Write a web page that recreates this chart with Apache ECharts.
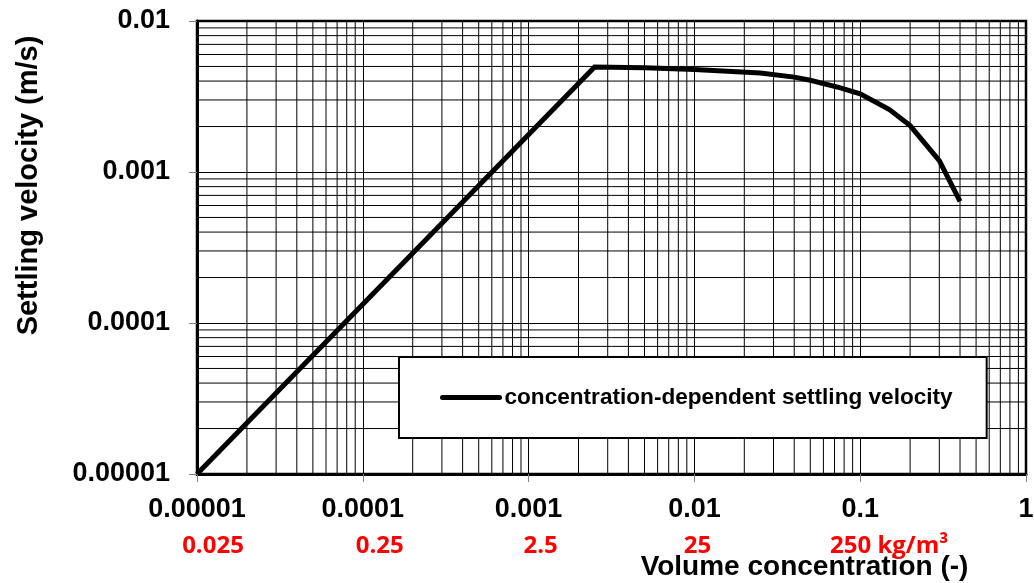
<!DOCTYPE html>
<html>
<head>
<meta charset="utf-8">
<script src="https://cdn.jsdelivr.net/npm/echarts@6/dist/echarts.min.js"></script>
<style>
html,body{margin:0;padding:0;background:#fff;}
#chart{width:1034px;height:583px;}
</style>
</head>
<body>
<div id="chart"></div>
<script>
// ---- data ----
const concentration = [0.00001, 0.0025, 0.005, 0.01, 0.025, 0.04, 0.05, 0.075, 0.1, 0.15, 0.2, 0.3, 0.4];
const velocity      = [0.00001, 0.00495, 0.0049, 0.00478, 0.00452, 0.00425, 0.00405, 0.00362, 0.00329, 0.00259, 0.00203, 0.00119, 0.00064];
const seriesName = 'concentration-dependent settling velocity';
const xTickLabels = ['0.00001', '0.0001', '0.001', '0.01', '0.1', '1'];
const yTickLabels = ['0.00001', '0.0001', '0.001', '0.01'];
const massTickLabels = ['0.025', '0.25', '2.5', '25', '250 kg/m³', ''];
const xDecades = [-5, -4, -3, -2, -1, 0];
const yDecades = [-5, -4, -3, -2];
const xMin = 0.00001, xMax = 1, yMin = 0.00001, yMax = 0.01;

// minor log gridline values (2..9 within each decade)
const minorX = [], minorY = [];
for (let i = 0; i < xDecades.length - 1; i++) for (let k = 2; k <= 9; k++) minorX.push(k * Math.pow(10, xDecades[i]));
for (let i = 0; i < yDecades.length - 1; i++) for (let k = 2; k <= 9; k++) minorY.push(k * Math.pow(10, yDecades[i]));

const decadeIndex = (v, decs) => decs.indexOf(Math.round(Math.log10(v)));

const chart = echarts.init(document.getElementById('chart'), null, {renderer: 'canvas'});
const baseFont = 'Liberation Sans, Arial, sans-serif';
const redFont = 'Open Sans, sans-serif';
const redStyle = (shift) => ({color: '#ff0000', fontFamily: redFont, fontWeight: 'bold', fontSize: 24, padding: [0, 0, 0, 2 * shift]});

const gridLineItem = (p1, p2) => ({
  type: 'line', silent: true,
  shape: {x1: p1[0], y1: p1[1], x2: p2[0], y2: p2[1]},
  style: {stroke: '#000', lineWidth: 1}
});

const option = {
  animation: false,
  backgroundColor: '#fff',
  grid: {left: 197, top: 21, right: 8, bottom: 109, show: true, borderColor: '#000', borderWidth: 2.5,
         backgroundColor: 'transparent', containLabel: false, outerBoundsMode: 'none'},
  legend: {
    data: [seriesName],
    left: 399, top: 357,
    padding: [29, 34, 29, 41],
    itemWidth: 57, itemHeight: 14, itemGap: 6,
    borderColor: '#000', borderWidth: 2, backgroundColor: '#fff',
    z: 20,
    itemStyle: {opacity: 0},
    lineStyle: {width: 5, cap: 'round', color: '#000'},
    textStyle: {color: '#000', fontFamily: baseFont, fontWeight: 'bold', fontSize: 22.6},
    selectedMode: false
  },
  xAxis: [{
    type: 'log', logBase: 10, min: xMin, max: xMax,
    position: 'bottom',
    axisLine: {show: true, onZero: false, lineStyle: {color: '#000', width: 3}},
    axisTick: {show: true, length: 8, lineStyle: {color: '#808080', width: 1}},
    axisLabel: {margin: 22, color: '#000', fontFamily: baseFont, fontWeight: 'bold', fontSize: 27,
      formatter: (v) => xTickLabels[decadeIndex(v, xDecades)] || ''},
    splitLine: {show: true, lineStyle: {color: '#000', width: 1}},
    minorTick: {show: false}, minorSplitLine: {show: false}
  }, {
    type: 'log', logBase: 10, min: xMin, max: xMax,
    position: 'bottom', offset: 0,
    axisLine: {show: false}, axisTick: {show: false}, splitLine: {show: false},
    axisLabel: {margin: 60,
      formatter: (v) => { const i = decadeIndex(v, xDecades); return massTickLabels[i] ? '{r' + i + '|' + massTickLabels[i] + '}' : ''; },
      rich: {r0: redStyle(16), r1: redStyle(17), r2: redStyle(12), r3: redStyle(3), r4: redStyle(29)}
    },
    name: 'Volume concentration (-)', nameLocation: 'middle', nameGap: 79, nameMoveOverlap: false,
    nameTextStyle: {color: '#000', fontFamily: baseFont, fontWeight: 'bold', fontSize: 28, padding: [0, 0, 0, 386]}
  }],
  yAxis: {
    type: 'log', logBase: 10, min: yMin, max: yMax,
    axisLine: {show: true, onZero: false, lineStyle: {color: '#000', width: 3}},
    axisTick: {show: true, length: 8, lineStyle: {color: '#808080', width: 1}},
    axisLabel: {margin: 27, color: '#000', fontFamily: baseFont, fontWeight: 'bold', fontSize: 27,
      formatter: (v) => yTickLabels[decadeIndex(v, yDecades)] || ''},
    splitLine: {show: true, lineStyle: {color: '#000', width: 1}},
    name: 'Settling velocity (m/s)', nameLocation: 'middle', nameRotate: 90, nameGap: 154, nameMoveOverlap: false,
    nameTextStyle: {color: '#000', fontFamily: baseFont, fontWeight: 'bold', fontSize: 29, padding: [0, 0, 0, 124]}
  },
  series: [{
    name: 'minor-grid-x', type: 'custom', z: 1, silent: true, xAxisIndex: 0, yAxisIndex: 0,
    data: minorX.map(v => [v, yMin]),
    renderItem: (params, api) => gridLineItem(api.coord([api.value(0), yMin]), api.coord([api.value(0), yMax]))
  }, {
    name: 'minor-grid-y', type: 'custom', z: 1, silent: true, xAxisIndex: 0, yAxisIndex: 0,
    data: minorY.map(v => [xMin, v]),
    renderItem: (params, api) => gridLineItem(api.coord([xMin, api.value(1)]), api.coord([xMax, api.value(1)]))
  }, {
    name: seriesName, type: 'line', z: 5, xAxisIndex: 0, yAxisIndex: 0,
    data: concentration.map((c, i) => [c, velocity[i]]),
    symbol: 'none', smooth: false, clip: true,
    lineStyle: {color: '#000', width: 5, join: 'miter'},
    itemStyle: {color: '#000'},
    emphasis: {disabled: true}
  }]
};
chart.setOption(option);
</script>
</body>
</html>
